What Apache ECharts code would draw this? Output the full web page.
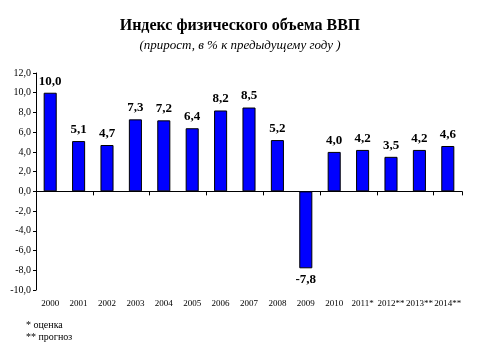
<!DOCTYPE html>
<html><head><meta charset="utf-8">
<script src="https://cdn.jsdelivr.net/npm/echarts@6/dist/echarts.min.js"></script>
<style>html,body{margin:0;padding:0;background:#fff}#c{width:480px;height:361px}</style>
</head><body><div id="c"></div>
<script>
const categories = ['2000','2001','2002','2003','2004','2005','2006','2007','2008','2009','2010','2011*','2012**','2013**','2014**'];
const values = [10.0, 5.1, 4.7, 7.3, 7.2, 6.4, 8.2, 8.5, 5.2, -7.8, 4.0, 4.2, 3.5, 4.2, 4.6];
const titleText = 'Индекс физического объема ВВП';
const subtitleText = '(прирост, в % к предыдущему году )';
const notes = ['* оценка', '** прогноз'];
const fmt = v => Number(v).toFixed(1).replace('.', ',');
const serif = '"Liberation Serif", "DejaVu Serif", serif';
const chart = echarts.init(document.getElementById('c'));
chart.setOption({
  animation: false,
  title: [
    {text: titleText, left: 'center', top: 13, textStyle: {fontFamily: serif, fontSize: 16, fontWeight: 'bold', color: '#000'}},
    {text: subtitleText, left: 'center', top: 34, textStyle: {fontFamily: serif, fontSize: 13, fontStyle: 'italic', fontWeight: 'normal', color: '#000'}}
  ],
  graphic: [
    {type: 'text', left: 26, top: 320, style: {text: notes[0], font: '10px ' + serif, fill: '#000'}},
    {type: 'text', left: 26, top: 332, style: {text: notes[1], font: '10px ' + serif, fill: '#000'}}
  ],
  grid: {left: 36, right: 18, top: 73, bottom: 71},
  xAxis: [
    {type: 'category', data: categories, position: 'bottom',
     axisLine: {onZero: true, lineStyle: {color: '#000', width: 1}},
     axisTick: {show: true, length: 4, lineStyle: {color: '#000'}},
     axisLabel: {show: false}},
    {type: 'category', data: categories, position: 'bottom',
     axisLine: {show: false, onZero: false}, axisTick: {show: false},
     axisLabel: {show: true, interval: 0, margin: 9, fontFamily: serif, fontSize: 9, color: '#000'}}
  ],
  yAxis: {type: 'value', min: -10, max: 12, interval: 2,
    splitLine: {show: false},
    axisLine: {show: true, lineStyle: {color: '#000'}},
    axisTick: {show: true, length: 3, lineStyle: {color: '#000'}},
    axisLabel: {formatter: fmt, fontFamily: serif, fontSize: 10, color: '#000', margin: 5}},
  series: [{
    type: 'bar', xAxisIndex: 0, data: values.map(v => ({value: v, label: {position: v < 0 ? 'bottom' : 'top'}})),
    barCategoryGap: '54%',
    itemStyle: {color: '#0000FF', borderColor: '#000', borderWidth: 1},
    label: {show: true, formatter: p => fmt(p.value), fontFamily: serif, fontSize: 13, fontWeight: 'bold', color: '#000', distance: 5}
  }]
});
</script></body></html>
